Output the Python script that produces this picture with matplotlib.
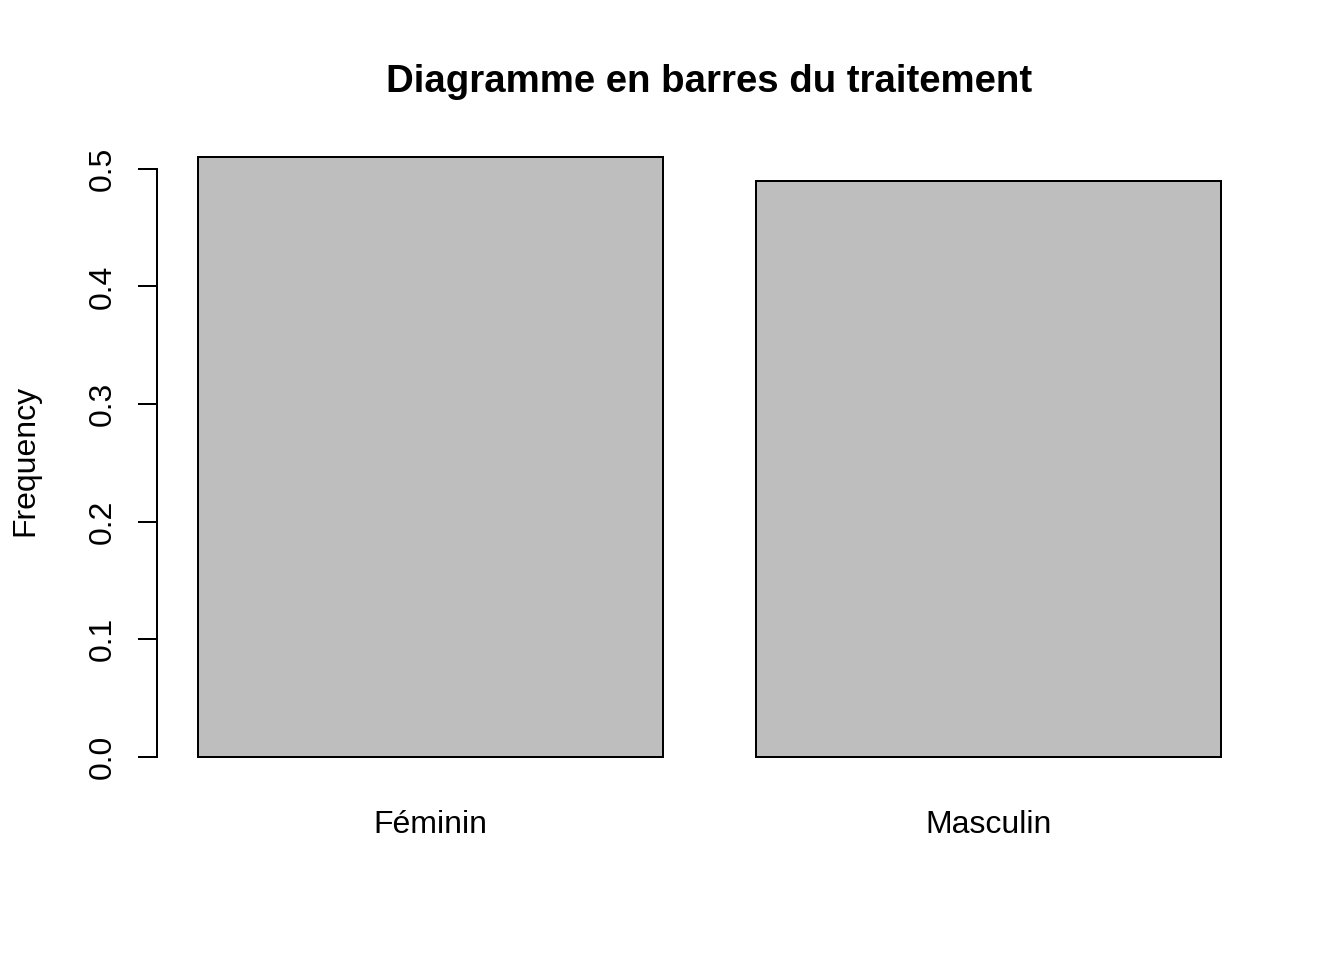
import matplotlib
matplotlib.use("Agg")
import matplotlib.pyplot as plt

# data
categories = ["Féminin", "Masculin"]
frequencies = [0.51, 0.49]
y_ticks = [0.0, 0.1, 0.2, 0.3, 0.4, 0.5]

plt.rcParams['font.family'] = ['Liberation Sans', 'DejaVu Sans']

fig = plt.figure(figsize=(7, 5), dpi=192)
ax = fig.add_axes([157/1344, 1 - 781/960, 1105/1344, 648/960])

# R barplot layout: width 1, space 0.2
width, space = 1.0, 0.2
lefts = [space + i * (width + space) for i in range(len(categories))]
centers = [l + width / 2 for l in lefts]
ax.bar(centers, frequencies, width=width, color="#BEBEBE",
       edgecolor="black", linewidth=0.75)

xr = lefts[-1] + width - lefts[0]
ax.set_xlim(lefts[0] - 0.04 * xr, lefts[-1] + width + 0.04 * xr)
ymax = max(frequencies)
ax.set_ylim(-0.04 * ymax, ymax * 1.04)

for s in ["top", "right", "bottom"]:
    ax.spines[s].set_visible(False)
ax.spines["left"].set_bounds(y_ticks[0], y_ticks[-1])
ax.spines["left"].set_linewidth(0.75)

ax.set_yticks(y_ticks)
ax.set_yticklabels([f"{t:.1f}" for t in y_ticks], rotation=90, va="center")
ax.tick_params(axis="y", length=7.2, width=0.75, pad=7.5, labelsize=12)
ax.set_xticks(centers)
ax.set_xticklabels(categories)
ax.tick_params(axis="x", length=0, pad=11, labelsize=12)

fig.text(25/1344, 1 - 460/960, "Frequency", rotation=90,
         ha="center", va="center", fontsize=12)
fig.text(709.5/1344, 1 - 82/960, "Diagramme en barres du traitement",
         ha="center", va="center", fontsize=14.4, fontweight="bold")

fig.savefig("out.png", dpi=192)
